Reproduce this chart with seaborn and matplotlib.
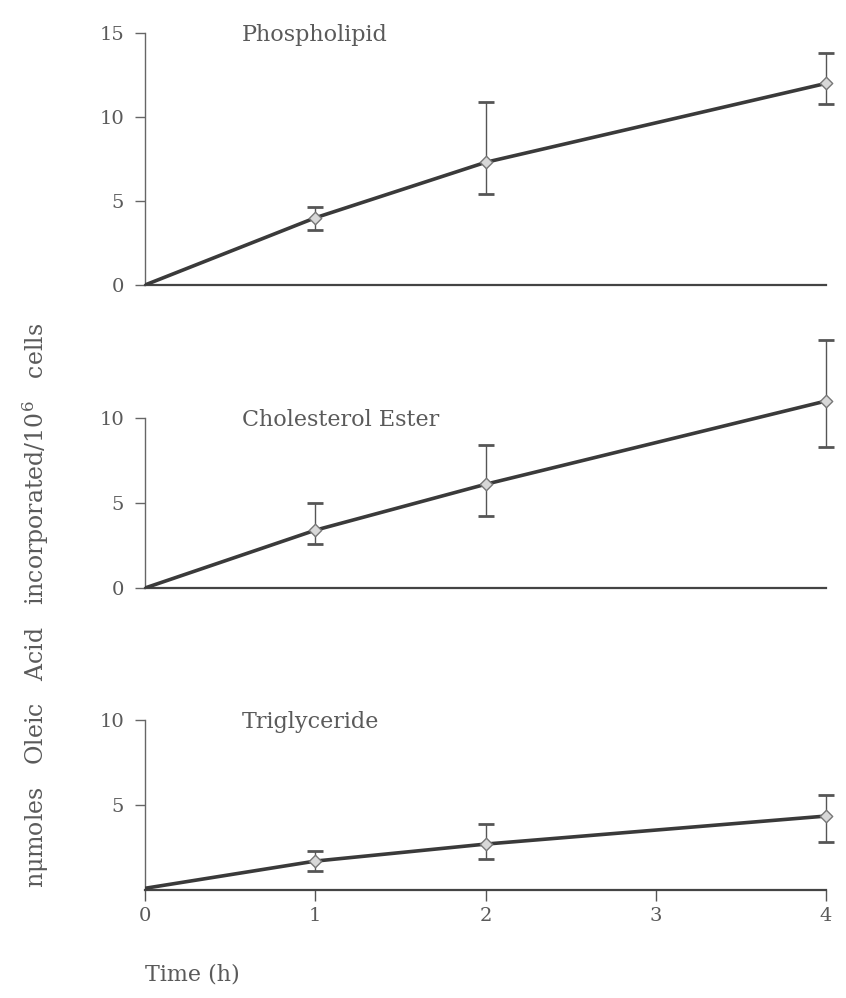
import numpy as np
import pandas as pd
import matplotlib
matplotlib.use("Agg")
import matplotlib.pyplot as plt
import seaborn as sns

# ---- data ----
time_h = [0, 1, 2, 4]
x_ticks = [0, 1, 2, 3, 4]

phospho_mean = [0.0, 4.0, 7.3, 12.0]
phospho_low = [0.0, 3.3, 5.4, 10.8]
phospho_high = [0.0, 4.65, 10.9, 13.8]

chol_mean = [0.0, 3.4, 6.1, 11.0]
chol_low = [0.0, 2.6, 4.25, 8.3]
chol_high = [0.0, 5.0, 8.4, 14.6]

trig_mean = [0.1, 1.7, 2.7, 4.35]
trig_low = [0.1, 1.1, 1.85, 2.85]
trig_high = [0.1, 2.3, 3.9, 5.6]

panel_titles = ["Phospholipid", "Cholesterol Ester", "Triglyceride"]
ytick_sets = [[0, 5, 10, 15], [0, 5, 10], [5, 10]]
spine_tops = [15, 10, 10]
ylims = [(0, 15), (0, 15), (0, 10)]
y_label = "nμmoles   Oleic   Acid   incorporated/10$^6$   cells"
x_label = "Time (h)"

sns.set_theme(style="white")
plt.rcParams["font.family"] = ["DejaVu Serif"]
plt.rcParams["mathtext.fontset"] = "dejavuserif"

W, H = 846, 998
fig = plt.figure(figsize=(W / 100, H / 100), dpi=100)

TXT = "#5a5a5a"
LINE = "#3a3a3a"

# axes positions in pixel terms: (top_px, bottom_px)
pix = [(33, 285), (333, 588), (720, 890)]
x0, x1 = 145, 826

series = [
    (phospho_mean, phospho_low, phospho_high),
    (chol_mean, chol_low, chol_high),
    (trig_mean, trig_low, trig_high),
]

axes = []
for i, ((top, bot), (m, lo, hi)) in enumerate(zip(pix, series)):
    ax = fig.add_axes([x0 / W, 1 - bot / H, (x1 - x0) / W, (bot - top) / H])
    axes.append(ax)
    df = pd.DataFrame({"t": time_h, "v": m})
    sns.lineplot(data=df, x="t", y="v", ax=ax, color=LINE, lw=2.6, zorder=3)
    m_arr = np.array(m)
    yerr = np.vstack([m_arr - np.array(lo), np.array(hi) - m_arr])
    ax.errorbar(time_h[1:], m[1:], yerr=yerr[:, 1:], fmt="none", ecolor="#555555",
                elinewidth=1.0, capsize=6, capthick=2.0, zorder=2, clip_on=False)
    sns.scatterplot(data=df.iloc[1:], x="t", y="v", ax=ax, marker="D", s=40,
                    color="#d8d8d8", edgecolor="#777777", linewidth=1.0, zorder=4,
                    clip_on=False)
    ax.set_xlim(0, 4)
    ax.set_ylim(*ylims[i])
    ax.set_yticks(ytick_sets[i])
    ax.set_yticklabels([str(t) for t in ytick_sets[i]], fontsize=14, color=TXT)
    ax.set_xlabel("")
    ax.set_ylabel("")
    for s in ["top", "right"]:
        ax.spines[s].set_visible(False)
    ax.spines["left"].set_bounds(0, spine_tops[i])
    ax.spines["left"].set_color("#666666")
    ax.spines["left"].set_linewidth(1.0)
    ax.spines["bottom"].set_color("#444444")
    ax.spines["bottom"].set_linewidth(1.6)
    ax.tick_params(axis="y", direction="out", length=7, width=1, color="#666666",
                   left=True, pad=8)
    ax.patch.set_alpha(0)
    ax.text(0.57, spine_tops[i] - 0.1, panel_titles[i], fontsize=16, color=TXT,
            ha="left", va="center")
    if i < 2:
        ax.set_xticks([])
    else:
        ax.set_xticks(x_ticks)
        ax.set_xticklabels([str(t) for t in x_ticks], fontsize=14, color=TXT)
        ax.tick_params(axis="x", direction="out", length=8, width=1,
                       color="#555555", bottom=True, pad=4)

fig.text(36 / W, 1 - 605 / H, y_label, rotation=90, fontsize=17, color=TXT,
         ha="center", va="center")
fig.text(145 / W, 1 - 975 / H, x_label, fontsize=16, color=TXT,
         ha="left", va="center")

fig.savefig("out.png", dpi=100)
